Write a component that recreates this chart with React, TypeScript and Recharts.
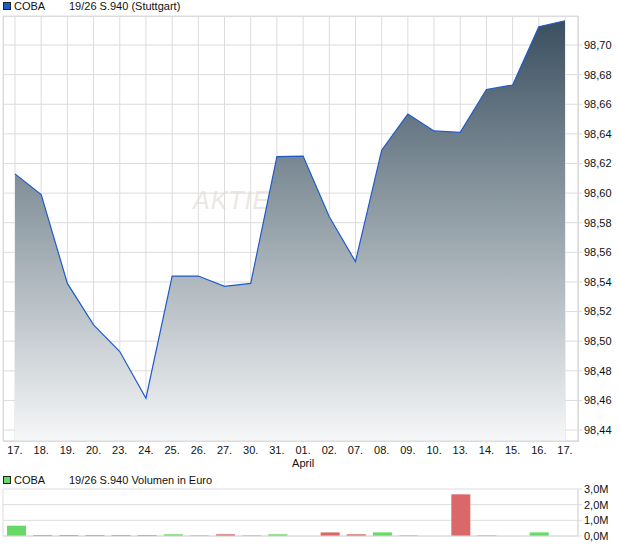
import { Area, AreaChart, Bar, BarChart, CartesianGrid, Cell, XAxis, YAxis } from 'recharts';

const dates = ['17.', '18.', '19.', '20.', '23.', '24.', '25.', '26.', '27.', '30.', '31.', '01.', '02.', '07.', '08.', '09.', '10.', '13.', '14.', '15.', '16.', '17.'];
const months = ['', '', '', '', '', '', '', '', '', '', '', 'April', '', '', '', '', '', '', '', '', '', ''];
const prices = [98.613, 98.599, 98.539, 98.511, 98.493, 98.4615, 98.544, 98.544, 98.537, 98.539, 98.6246, 98.625, 98.584, 98.5537, 98.629, 98.6534, 98.642, 98.641, 98.67, 98.673, 98.7124, 98.7164];
const volumes = [660000, 60000, 60000, 60000, 60000, 60000, 110000, 60000, 110000, 50000, 110000, 0, 230000, 110000, 230000, 50000, 0, 2660000, 50000, 0, 230000, 0];

const priceTicks = [98.44, 98.46, 98.48, 98.5, 98.52, 98.54, 98.56, 98.58, 98.6, 98.62, 98.64, 98.66, 98.68, 98.7];
const volumeTicks = [0, 1000000, 2000000, 3000000];

const rows = dates.map((d, i) => ({ idx: i, date: d, month: months[i], price: prices[i], volume: volumes[i] }));

const font = '"Liberation Sans", Arial, sans-serif';
const grid = '#dcdcdc';

const barColor = (i: number) => {
  if (i === 0) return '#66d966';
  const diff = prices[i] - prices[i - 1];
  if (diff > 0) return '#66d966';
  if (diff < 0) return '#da6868';
  return '#b4b4b4';
};

const DateTick = (props: any) => {
  const { x, y, payload } = props;
  const row = rows[payload.index];
  return (
    <g>
      <text x={x} y={y + 13} textAnchor="middle" fontSize={11} fontFamily={font} fill="#111">
        {row.date}
      </text>
      {row.month && (
        <text x={x} y={y + 26} textAnchor="middle" fontSize={11} fontFamily={font} fill="#111">
          {row.month}
        </text>
      )}
    </g>
  );
};

const fmtPrice = (v: number) => v.toFixed(2).replace('.', ',');
const fmtVolume = (v: number) => (v / 1000000).toFixed(1).replace('.', ',') + 'M';

const LegendRow = ({ top, color, text }: { top: number; color: string; text: string }) => (
  <div style={{ position: 'absolute', left: 0, top, height: 14, width: 400 }}>
    <div style={{ position: 'absolute', left: 3, top: 2, width: 6, height: 6, background: color, border: '1px solid #222' }} />
    <span style={{ position: 'absolute', left: 14, top: 0, lineHeight: '12px' }}>COBA</span>
    <span style={{ position: 'absolute', left: 69, top: 0, lineHeight: '12px' }}>{text}</span>
  </div>
);

export default function App() {
  return (
    <div style={{ position: 'absolute', left: 0, top: 0, width: 620, height: 546, background: '#fff', fontFamily: font, fontSize: 11, color: '#111' }}>
      <LegendRow top={0} color="#1f5bc8" text="19/26 S.940 (Stuttgart)" />
      <div style={{ position: 'absolute', left: 3, top: 16, width: 574, height: 424, border: `1px solid ${grid}` }} />
      <div style={{ position: 'absolute', left: 193, top: 186, fontSize: 25, fontStyle: 'italic', color: '#ece7e2', letterSpacing: 1 }}>
        AKTIEN
      </div>
      <div style={{ position: 'absolute', left: 0, top: 0 }}>
        <AreaChart width={620} height={470} data={rows} margin={{ top: 16, right: 0, bottom: 0, left: 3 }}>
          <defs>
            <linearGradient id="priceFill" x1="0" y1="0" x2="0" y2="1">
              <stop offset="0%" stopColor="#3a4f60" />
              <stop offset="45%" stopColor="#8f9ca4" />
              <stop offset="100%" stopColor="#f6f7f8" />
            </linearGradient>
          </defs>
          <CartesianGrid stroke={grid} />
          <XAxis
            dataKey="idx"
            type="category"
            tick={<DateTick />}
            tickLine={false}
            tickSize={0}
            tickMargin={0}
            axisLine={{ stroke: grid }}
            padding={{ left: 12, right: 13 }}
            height={29}
            interval={0}
          />
          <YAxis
            orientation="right"
            domain={[98.4326, 98.7196]}
            ticks={priceTicks}
            allowDataOverflow
            interval={0}
            tickFormatter={fmtPrice}
            width={42}
            tickSize={4}
            tickMargin={2}
            tickLine={{ stroke: grid }}
            axisLine={{ stroke: grid }}
            tick={{ fontSize: 11, fontFamily: font, fill: '#111' }}
          />
          <Area
            type="linear"
            dataKey="price"
            stroke="#1f5bc8"
            strokeWidth={1.2}
            fill="url(#priceFill)"
            fillOpacity={1}
            isAnimationActive={false}
          />
        </AreaChart>
      </div>
      <LegendRow top={474} color="#66d966" text="19/26 S.940 Volumen in Euro" />
      <div style={{ position: 'absolute', left: 0, top: 470 }}>
        <BarChart width={620} height={76} data={rows} margin={{ top: 19, right: 0, bottom: 9, left: 3 }} barSize={19}>
          <CartesianGrid stroke={grid} />
          <XAxis dataKey="idx" tick={false} tickLine={false} axisLine={{ stroke: grid }} height={1} interval={0} />
          <YAxis
            orientation="right"
            domain={[0, 3000000]}
            ticks={volumeTicks}
            interval={0}
            tickFormatter={fmtVolume}
            width={42}
            tickSize={4}
            tickMargin={2}
            tickLine={{ stroke: grid }}
            axisLine={{ stroke: grid }}
            tick={{ fontSize: 11, fontFamily: font, fill: '#111' }}
          />
          <Bar dataKey="volume" isAnimationActive={false}>
            {rows.map((r) => (
              <Cell key={r.idx} fill={barColor(r.idx)} />
            ))}
          </Bar>
        </BarChart>
      </div>
    </div>
  );
}
